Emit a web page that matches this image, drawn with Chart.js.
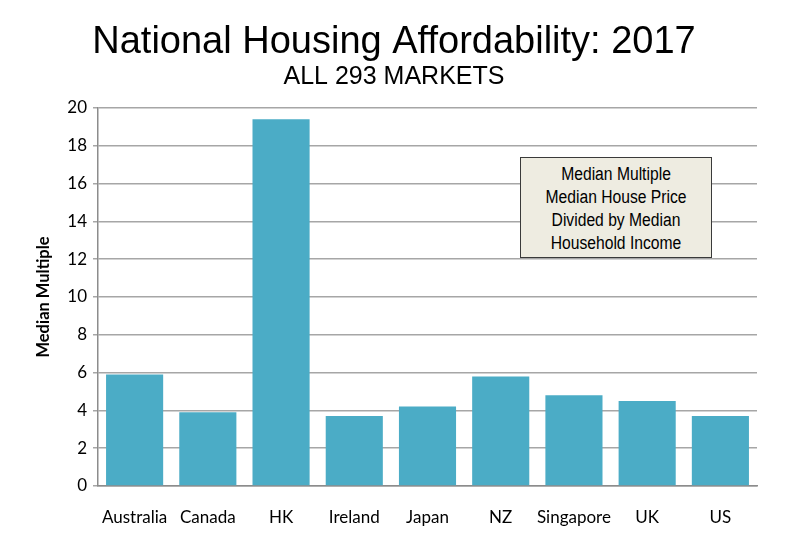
<!DOCTYPE html>
<html>
<head>
<meta charset="utf-8">
<script src="https://cdn.jsdelivr.net/npm/chart.js@4"></script>
<style>
  html, body { margin: 0; padding: 0; background: #fff; }
  #wrap { position: relative; width: 788px; height: 534px; }
  #note {
    position: absolute; left: 520px; top: 157px; width: 190px; height: 94px;
    background: #EEECE1; border: 1px solid #3a3a3a;
    font-family: 'Liberation Sans', Arial, sans-serif;
    font-size: 18px; line-height: 23px; color: #000; text-align: center;
    padding-top: 5px; box-sizing: content-box; overflow: hidden;
  }
  #note div { transform: scaleX(0.87); transform-origin: 50% 50%; white-space: nowrap; }
</style>
</head>
<body>
<div id="wrap">
  <canvas id="c" width="788" height="534"></canvas>
  <div id="note"><div>Median Multiple</div><div>Median House Price</div><div>Divided by Median</div><div>Household Income</div></div>
</div>
<script>
const titleText = 'National Housing Affordability: 2017';
const subtitleText = 'ALL 293 MARKETS';
const yAxisTitle = 'Median Multiple';
const categories = ['Australia', 'Canada', 'HK', 'Ireland', 'Japan', 'NZ', 'Singapore', 'UK', 'US'];
const medianMultiple = [5.9, 3.9, 19.4, 3.7, 4.2, 5.8, 4.8, 4.5, 3.7];
const yMin = 0, yMax = 20, yStep = 2;

const axisFont = "Lato, 'Open Sans', sans-serif";

const titlePlugin = {
  id: 'pageTitles',
  afterDraw(chart) {
    const ctx = chart.ctx;
    const cx = chart.width / 2;
    ctx.save();
    ctx.fillStyle = '#000';
    ctx.textAlign = 'center';
    ctx.textBaseline = 'alphabetic';
    ctx.font = "38px 'Liberation Sans', Arial, sans-serif";
    ctx.fillText(titleText, cx, 53);
    ctx.font = "25px 'Liberation Sans', Arial, sans-serif";
    ctx.fillText(subtitleText, cx, 84);
    ctx.restore();
  }
};

new Chart(document.getElementById('c'), {
  type: 'bar',
  data: {
    labels: categories,
    datasets: [{
      data: medianMultiple,
      backgroundColor: '#4BACC6',
      borderWidth: 0,
      categoryPercentage: 1,
      barPercentage: 0.78
    }]
  },
  options: {
    responsive: false,
    animation: false,
    layout: { padding: { left: 34, right: 31, top: 108, bottom: 0 } },
    plugins: {
      legend: { display: false },
      tooltip: { enabled: false },
      title: { display: false }
    },
    scales: {
      x: {
        grid: { display: false, drawTicks: false },
        border: { display: true, color: '#8c8c8c', width: 1.5 },
        ticks: { color: '#000', font: { family: axisFont, size: 17 }, padding: 21, maxRotation: 0, autoSkip: false },
        afterFit(s) { s.height = 48; }
      },
      y: {
        min: yMin, max: yMax,
        ticks: { stepSize: yStep, color: '#000', font: { family: axisFont, size: 17 }, padding: 6 },
        grid: { color: '#a6a6a6', lineWidth: 1.5, tickLength: 5, drawTicks: true },
        border: { display: true, color: '#8c8c8c', width: 1.5 },
        title: { display: true, text: yAxisTitle, color: '#000', font: { family: axisFont, size: 16.5, weight: 'bold' }, padding: { top: 0, bottom: 0 } },
        afterFit(s) { s.width = 64; }
      }
    }
  },
  plugins: [titlePlugin]
});
</script>
</body>
</html>
